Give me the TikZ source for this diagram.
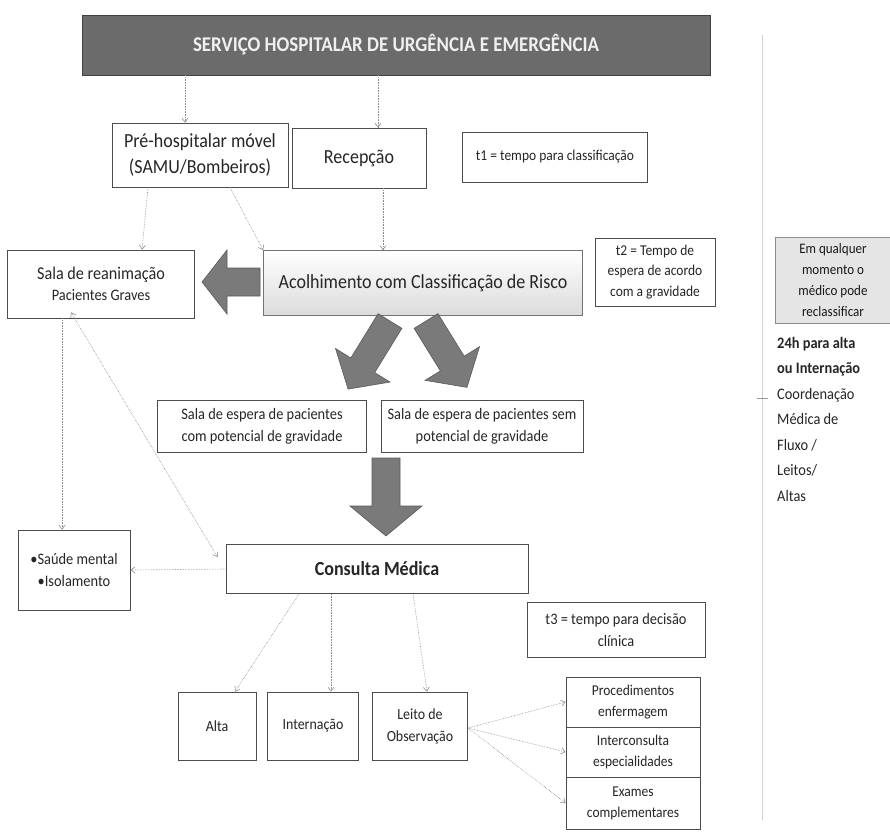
\documentclass[tikz,border=0pt]{standalone}
\usepackage{fontspec}
\setmainfont{Carlito}[FakeStretch=0.9]
\usetikzlibrary{arrows.meta}
\tikzset{
  box/.style={draw=black!70, line width=0.8pt, align=center, inner sep=2pt, text=black!85},
  conn/.style={draw=black!45, line width=0.6pt, densely dotted, -{Straight Barb[length=4pt,width=6pt]}},
  blk/.style={fill=black!52, draw=black!65, line width=0.6pt},
}
\newcommand\blockarrow[7]{%
  \path[blk, shift={(#1,#2)}, rotate=#3] (0,-#5) -- (#4-#7,-#5) -- (#4-#7,-#6) -- (#4,0) -- (#4-#7,#6) -- (#4-#7,#5) -- (0,#5) -- cycle;}
\begin{document}
\begin{tikzpicture}[x=1pt,y=-1pt]
\useasboundingbox (0,0) rectangle (890,835);
\fill[white] (0,0) rectangle (890,835);
% faint scan edge
\draw[black!18, line width=0.6pt] (762,35) -- (762,820);
\draw[black!40, line width=0.6pt] (757,398) -- (768,398);

% title
\node[box, fill=black!58, draw=black!75, minimum width=628pt, minimum height=60pt, text=white!94!black,
      font=\fontsize{21}{25}\selectfont\bfseries] (title) at (396,45) {SERVIÇO HOSPITALAR DE URGÊNCIA E EMERGÊNCIA};

\node[box, minimum width=176pt, minimum height=64pt, font=\fontsize{20}{26}\selectfont] (pre) at (200,155) {Pré-hospitalar móvel\\(SAMU/Bombeiros)};
\node[box, minimum width=134pt, minimum height=60pt, font=\fontsize{20}{24}\selectfont] (rec) at (359,158) {Recepção};
\node[box, minimum width=185pt, minimum height=50pt, font=\fontsize{15}{18}\selectfont] (t1) at (555,157) {t1 = tempo para classificação};

\node[box, minimum width=187pt, minimum height=68pt, font=\fontsize{18}{22}\selectfont] (sala) at (101,284) {Sala de reanimação\\[-1pt]\fontsize{16}{20}\selectfont Pacientes Graves};
\node[box, draw=black!55, top color=white, bottom color=black!14, minimum width=319pt, minimum height=65pt, font=\fontsize{20}{24}\selectfont] (acol) at (423,283) {Acolhimento com Classificação de Risco};
\node[box, minimum width=120pt, minimum height=68pt, font=\fontsize{15}{20.5}\selectfont] (t2) at (655,272) {t2 = Tempo de\\espera de acordo\\com a gravidade};
\node[box, draw=black!45, fill=black!10, minimum width=116pt, minimum height=86pt, font=\fontsize{14.5}{21}\selectfont, text=black!90] (emq) at (833,280) {Em qualquer\\momento o\\médico pode\\reclassificar};

\node[anchor=north west, align=left, inner sep=0pt, text=black!85, font=\fontsize{16}{25.5}\selectfont] (coord) at (777,337)
  {\textbf{24h para alta}\\\textbf{ou Internação}\\Coordenação\\Médica de\\Fluxo /\\Leitos/\\Altas};

\node[box, minimum width=209pt, minimum height=52pt, font=\fontsize{16}{22}\selectfont] (ec) at (262,426) {Sala de espera de pacientes\\com potencial de gravidade};
\node[box, minimum width=202pt, minimum height=52pt, font=\fontsize{16}{22}\selectfont] (es) at (482,426) {Sala de espera de pacientes sem\\potencial de gravidade};

\node[box, minimum width=302pt, minimum height=49pt, font=\fontsize{20}{24}\selectfont\bfseries] (cons) at (377,569) {Consulta Médica};
\node[box, minimum width=112pt, minimum height=80pt, font=\fontsize{16}{22}\selectfont] (saude) at (74,570) {•Saúde mental\\•Isolamento};
\node[box, minimum width=178pt, minimum height=55pt, font=\fontsize{16}{22}\selectfont] (t3) at (616,630) {t3 = tempo para decisão\\clínica};

\node[box, minimum width=78pt, minimum height=68pt, font=\fontsize{15.5}{19}\selectfont] (alta) at (217,726) {Alta};
\node[box, minimum width=91pt, minimum height=68pt, font=\fontsize{15.5}{19}\selectfont] (intern) at (313,726) {Internação};
\node[box, minimum width=95pt, minimum height=68pt, font=\fontsize{15.5}{22}\selectfont] (leito) at (420,726) {Leito de\\Observação};

\node[box, minimum width=134pt, minimum height=50pt, font=\fontsize{15}{21}\selectfont] (proc) at (633,702) {Procedimentos\\enfermagem};
\node[box, minimum width=134pt, minimum height=50pt, font=\fontsize{15}{21}\selectfont] (inter) at (633,752) {Interconsulta\\especialidades};
\node[box, minimum width=134pt, minimum height=52pt, font=\fontsize{15}{21}\selectfont] (exam) at (633,803) {Exames\\complementares};

% block arrows
\blockarrow{260}{282}{180}{58}{14}{32}{25}
\blockarrow{390}{321}{-121.6}{80}{14}{32}{28}
\blockarrow{426}{321}{-58.3}{78}{14}{32}{28}
\blockarrow{386}{458}{-90}{78}{14}{36}{30}

% connectors
\draw[conn] ([xshift=-15pt]pre.north |- title.south) -- ([xshift=-15pt]pre.north);
\draw[conn] ([xshift=19pt]rec.north |- title.south) -- ([xshift=19pt]rec.north);
\draw[conn] ([xshift=-52pt]pre.south) -- ([xshift=41pt]sala.north);
\draw[conn] ([xshift=30pt]pre.south) -- (acol.north west);
\draw[conn] ([xshift=24pt]rec.south) -- ([xshift=-40pt]acol.north);
\draw[conn] ([xshift=-39pt]sala.south) -- ([xshift=-12pt]saude.north);
\draw[conn, {Straight Barb[length=4pt,width=6pt]}-{Straight Barb[length=4pt,width=6pt]}] ([shift={(-30pt,6pt)}]sala.south) -- ([xshift=-8pt]cons.west |- 0,557);
\draw[conn] (cons.west) -- (saude.east);
\draw[conn] ([xshift=-78pt]cons.south) -- ([xshift=18pt]alta.north);
\draw[conn] ([xshift=-46pt]cons.south) -- ([xshift=18pt]intern.north);
\draw[conn] ([xshift=36pt]cons.south) -- ([xshift=7pt]leito.north);
\draw[conn] ([yshift=-2pt]leito.east) -- (proc.west);
\draw[conn] ([yshift=-2pt]leito.east) -- (inter.west);
\draw[conn] ([yshift=-2pt]leito.east) -- (exam.west);
\end{tikzpicture}
\end{document}
